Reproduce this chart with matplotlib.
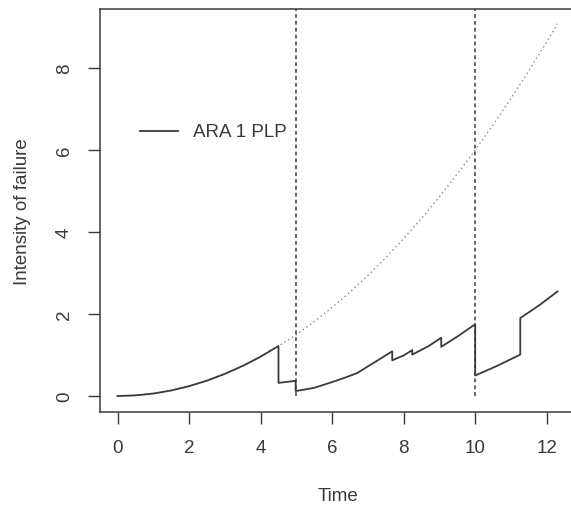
import matplotlib
matplotlib.use("Agg")
import matplotlib.pyplot as plt

# ---- data ----
pm_times = [5, 10]

plp_t = [0, 0.5, 1, 1.5, 2, 2.5, 3, 3.5, 4, 4.5, 5, 5.5, 6, 6.5, 7, 7.5, 8,
         8.5, 9, 9.5, 10, 10.5, 11, 11.5, 12, 12.3]
plp_y = [0, 0.015, 0.06, 0.135, 0.24, 0.375, 0.54, 0.735, 0.96, 1.215, 1.5,
         1.815, 2.16, 2.535, 2.94, 3.375, 3.84, 4.335, 4.86, 5.415, 6.0,
         6.615, 7.26, 7.935, 8.64, 9.08]

ara_t = [0, 0.5, 1.0, 1.5, 2.0, 2.5, 3.0, 3.5, 4.0, 4.5, 4.5, 4.98, 4.98,
         5.5, 6.0, 6.4, 6.7, 7.2, 7.68, 7.68, 8.0, 8.24, 8.24, 8.7, 9.05,
         9.05, 9.5, 10.0, 10.0, 10.6, 11.26, 11.26, 11.8, 12.3]
ara_y = [0, 0.015, 0.06, 0.135, 0.24, 0.375, 0.54, 0.735, 0.96, 1.22, 0.32,
         0.37, 0.12, 0.2, 0.34, 0.46, 0.56, 0.83, 1.09, 0.87, 0.99, 1.12,
         1.01, 1.22, 1.42, 1.2, 1.45, 1.75, 0.5, 0.73, 1.01, 1.9, 2.22, 2.55]

x_ticks = [0, 2, 4, 6, 8, 10, 12]
y_ticks = [0, 2, 4, 6, 8]
legend_label = "ARA 1 PLP"

# ---- styling ----
plt.rcParams['font.family'] = ['Liberation Sans', 'DejaVu Sans']
ink = '#3a3a3a'
fs = 13.5

fig = plt.figure(figsize=(5.71, 5.10), dpi=100)
ax = fig.add_axes([100/571, 1 - 413/510, 475/571, 403/510])

ax.plot(plp_t, plp_y, linestyle=(0, (1, 2.2)), color='#8a8a8a', lw=1.0)
ax.plot(ara_t, ara_y, color=ink, lw=1.3)
for pm in pm_times:
    ax.plot([pm, pm], [0, 10], linestyle=(0, (2.5, 2)), color=ink, lw=1.1)

ax.set_xlim(-0.49, 12.79)
ax.set_ylim(-0.39, 9.44)
ax.set_xticks(x_ticks)
ax.set_yticks(y_ticks)
ax.set_xticklabels([str(v) for v in x_ticks], fontsize=fs, color=ink)
ax.set_yticklabels([str(v) for v in y_ticks], fontsize=fs, color=ink,
                   rotation=90, va='center')
ax.tick_params(axis='both', direction='out', length=8.5, width=1.0,
               color=ink, pad=11)
for s in ax.spines.values():
    s.set_color(ink)
    s.set_linewidth(1.1)
ax.set_xlabel("Time", fontsize=fs, color=ink, labelpad=22)
ax.set_ylabel("Intensity of failure", fontsize=fs, color=ink, labelpad=18)

# legend (no box), positioned in data coordinates
ax.plot([0.64, 1.70], [6.46, 6.46], color=ink, lw=1.3)
ax.text(2.12, 6.46, legend_label, fontsize=fs, color=ink, va='center',
        ha='left')

fig.savefig("out.png", dpi=100)
